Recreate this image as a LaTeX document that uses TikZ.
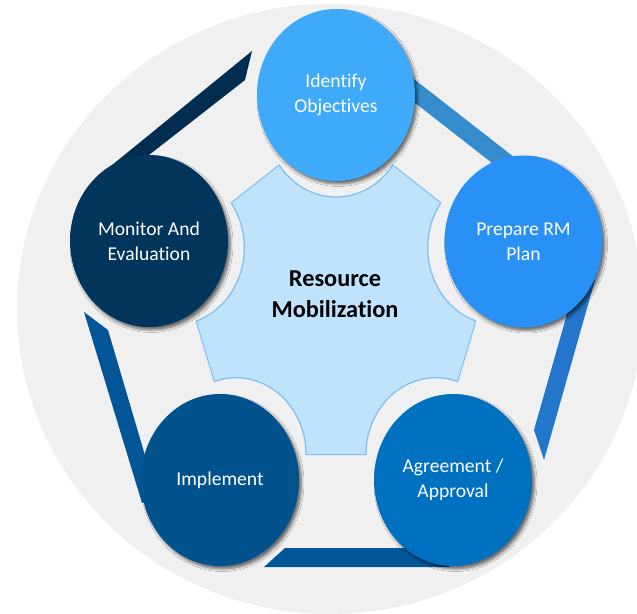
\documentclass[tikz,border=0pt]{standalone}
\usepackage{fontspec}
\setmainfont{Carlito}[Ligatures=CommonOff]
\usetikzlibrary{shapes.geometric,shadows.blur}
\definecolor{bgc}{HTML}{F0F0F0}
\definecolor{cfill}{HTML}{BFE3FC}
\definecolor{cline}{HTML}{7DBDF4}
\definecolor{cI}{HTML}{40AAFA}
\definecolor{cP}{HTML}{2991F5}
\definecolor{cA}{HTML}{0070C0}
\definecolor{cIm}{HTML}{02528D}
\definecolor{cM}{HTML}{02355B}
\definecolor{bM}{HTML}{012D50}
\definecolor{bI}{HTML}{348CCD}
\definecolor{bP}{HTML}{2476CC}
\definecolor{bA}{HTML}{02579B}
\definecolor{bIm}{HTML}{025596}
\begin{document}
\begin{tikzpicture}[x=1pt,y=-1pt,
  stage/.style={ellipse, minimum width=158pt, minimum height=172pt, inner sep=0pt,
    text=white, align=center, font=\fontsize{19.6}{25}\selectfont,
    blur shadow={shadow xshift=2.5pt, shadow yshift=-3pt, shadow blur radius=2.5pt, shadow blur steps=6, shadow opacity=55}},
  cutout/.style={x radius=70pt, y radius=77pt},
  coretext/.style={align=center, font=\bfseries\fontsize{24.3}{31}\selectfont, text=black}
]
\useasboundingbox (0,0) rectangle (637,613);
\clip (0,0) rectangle (637,613);
% background disc
\fill[bgc] (330,309) ellipse [x radius=313pt, y radius=305pt];
% centre pentagon vertices
\coordinate (pT)  at (336,120);
\coordinate (pUR) at (497.7,247.8);
\coordinate (pLR) at (435.9,454.7);
\coordinate (pLL) at (236.1,454.7);
\coordinate (pUL) at (174.3,247.8);
\fill[cfill, draw=cline, line width=1pt] (pT) -- (pUR) -- (pLR) -- (pLL) -- (pUL) -- cycle;
\fill[bgc] (pT) ellipse [cutout] (pUR) ellipse [cutout] (pLR) ellipse [cutout]
  (pLL) ellipse [cutout] (pUL) ellipse [cutout];
\begin{scope}
  \clip (pT) -- (pUR) -- (pLR) -- (pLL) -- (pUL) -- cycle;
  \draw[cline, line width=1.2pt] (pT) ellipse [cutout] (pUR) ellipse [cutout]
    (pLR) ellipse [cutout] (pLL) ellipse [cutout] (pUL) ellipse [cutout];
\end{scope}
% frame bars
\fill[bM]  (252,51) -- (245,80) -- (142.6,160) -- (149,241) -- (106,170) -- cycle;
\fill[bI]  (360,36.9) -- (520,161.8) -- (500,169.2) -- (360,59.9) -- cycle;
\fill[bP]  (544,460) -- (534,430) -- (571,300) -- (523,241) -- (595,280) -- cycle;
\fill[bA]  (264,567) -- (285,548) -- (430,548) -- (450,567) -- cycle;
\fill[bIm] (84,312) -- (108,330) -- (149.3,470) -- (220,480) -- (142,503) -- cycle;
% stage circles
\node[stage, fill=cI]  (ident) at (336,95)  {Identify\\Objectives};
\node[stage, fill=cP]  (prep)  at (523.5,241.5) {Prepare RM\\Plan};
\node[stage, fill=cA]  (agree) at (453,480) {Agreement /\\Approval};
\node[stage, fill=cIm] (impl)  at (220,480) {Implement};
\node[stage, fill=cM]  (moni)  at (149,241) {Monitor And\\Evaluation};
% centre label
\node[coretext] (core) at (335,294) {Resource\\Mobilization};
\end{tikzpicture}
\end{document}
